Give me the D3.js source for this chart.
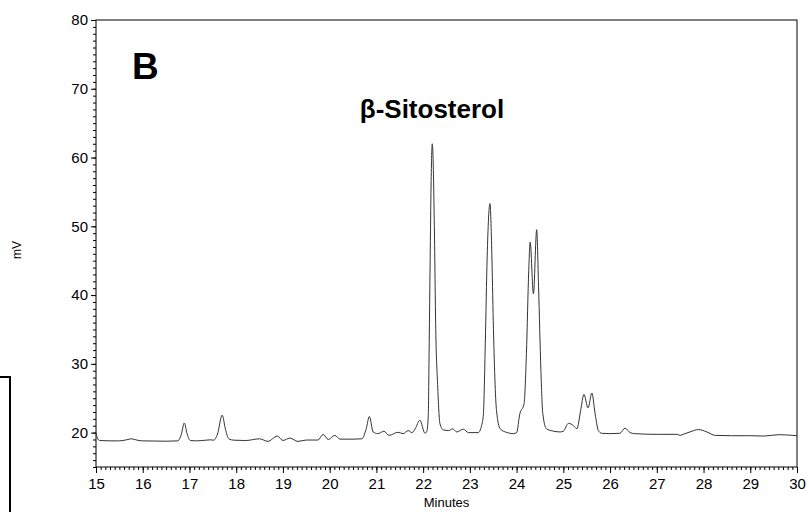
<!DOCTYPE html>
<html>
<head>
<meta charset="utf-8">
<script src="https://cdn.jsdelivr.net/npm/d3@7"></script>
<style>
  body { margin: 0; background: #fff; }
  svg { display: block; font-family: Arial, "Liberation Sans", sans-serif; }
</style>
</head>
<body>
<svg id="chart" width="810" height="512"></svg>
<script>
// retention time (minutes) and detector signal (mV)
var times = [15.00, 15.03, 15.08, 15.3, 15.5, 15.65, 15.76, 15.88, 16.0, 16.5, 16.75, 16.82, 16.89, 16.95, 17.02,
  17.15, 17.35, 17.45, 17.52, 17.6, 17.70, 17.77, 17.84, 17.95, 18.2, 18.5, 18.68, 18.88, 19.0, 19.15, 19.32,
  19.5, 19.75, 19.86, 19.97, 20.11, 20.22, 20.5, 20.69, 20.78, 20.85, 20.93, 21.03, 21.16, 21.27, 21.46, 21.57,
  21.68, 21.76, 21.83, 21.93, 22.04, 22.08, 22.11, 22.13, 22.15, 22.17, 22.195, 22.21, 22.24, 22.27, 22.31,
  22.36, 22.43, 22.55, 22.63, 22.72, 22.86, 22.97, 23.18, 23.25, 23.29, 23.33, 23.37, 23.43, 23.47, 23.50,
  23.57, 23.65, 23.8, 23.93, 24.0, 24.07, 24.16, 24.21, 24.26, 24.29, 24.36, 24.43, 24.47, 24.52, 24.56,
  24.64, 24.8, 24.93, 25.0, 25.11, 25.22, 25.29, 25.37, 25.44, 25.53, 25.61, 25.68, 25.75, 25.82, 26.0,
  26.21, 26.32, 26.43, 26.53, 27.0, 27.43, 27.5, 27.58, 27.71, 27.89, 28.07, 28.25, 28.6, 29.0, 29.3, 29.6, 30.0];
var signal = [20.0, 19.2, 18.85, 18.8, 18.8, 18.95, 19.1, 18.9, 18.8, 18.75, 18.8, 19.6, 21.4, 19.8, 18.85,
  18.8, 18.9, 18.95, 18.9, 19.8, 22.55, 20.5, 19.1, 18.9, 18.85, 19.1, 18.72, 19.5, 18.86, 19.2, 18.72,
  18.92, 18.92, 19.74, 19.0, 19.6, 19.05, 19.05, 19.1, 20.5, 22.35, 20.1, 19.85, 20.2, 19.6, 20.05, 19.85,
  20.3, 20.0, 20.55, 21.8, 19.9, 20.2, 22.5, 33, 45, 56, 62, 60.5, 50, 35, 27,
  21.3, 20.4, 20.3, 20.55, 20.1, 20.5, 20.0, 20.0, 21.0, 22.75, 33, 45.5, 53.3, 46, 36.3,
  23.2, 20.55, 20.0, 19.85, 20.0, 22.75, 24.2, 31.5, 43.6, 47.7, 40.2, 49.5, 41.2, 29.05, 22.8,
  20.55, 20.2, 20.1, 20.2, 21.35, 21.0, 20.55, 23.2, 25.55, 23.6, 25.75, 22.75, 20.3, 19.9, 19.85,
  19.9, 20.65, 20.0, 19.85, 19.75, 19.75, 19.6, 19.8, 20.1, 20.45, 20.1, 19.6, 19.55, 19.55, 19.5, 19.7, 19.55];

var xMajor = d3.range(15, 31, 1);
var yMajor = [20, 30, 40, 50, 60, 70, 80];

var width = 810, height = 512;
var margin = { top: 20, right: 13, bottom: 45, left: 96 };

var x = d3.scaleLinear().domain([15, 30]).range([margin.left, width - margin.right]);
var y = d3.scaleLinear().domain([15, 80]).range([height - margin.bottom, margin.top]);

var svg = d3.select("#chart");

// frame
svg.append("rect")
  .attr("x", margin.left).attr("y", margin.top)
  .attr("width", x(30) - x(15)).attr("height", y(15) - y(80))
  .attr("fill", "none").attr("stroke", "#000").attr("stroke-width", 1);

// minor ticks
svg.append("g")
  .attr("transform", "translate(0," + y(15) + ")")
  .call(d3.axisBottom(x).tickValues(d3.range(150, 301, 1).map(function (d) { return d / 10; }))
    .tickSize(3).tickFormat(""))
  .call(function (g) { g.select(".domain").remove(); });
svg.append("g")
  .attr("transform", "translate(" + margin.left + ",0)")
  .call(d3.axisLeft(y).tickValues(d3.range(15, 81, 1)).tickSize(3).tickFormat(""))
  .call(function (g) { g.select(".domain").remove(); });

// major axes
svg.append("g")
  .attr("transform", "translate(0," + y(15) + ")")
  .call(d3.axisBottom(x).tickValues(xMajor).tickSize(6).tickPadding(5).tickFormat(d3.format("d")))
  .call(function (g) { g.select(".domain").remove(); })
  .call(function (g) { g.selectAll("text").attr("font-size", "15px").attr("fill", "#000").attr("font-family", "Arial, 'Liberation Sans', sans-serif"); });
svg.append("g")
  .attr("transform", "translate(" + margin.left + ",0)")
  .call(d3.axisLeft(y).tickValues(yMajor).tickSize(5).tickPadding(3).tickFormat(d3.format("d")))
  .call(function (g) { g.select(".domain").remove(); })
  .call(function (g) { g.selectAll("text").attr("font-size", "15px").attr("fill", "#000").attr("font-family", "Arial, 'Liberation Sans', sans-serif"); });

// trace
var pts = times.map(function (t, i) { return [t, signal[i]]; });
svg.append("path")
  .datum(pts)
  .attr("fill", "none")
  .attr("stroke", "#333")
  .attr("stroke-width", 1)
  .attr("d", d3.line().x(function (d) { return x(d[0]); }).y(function (d) { return y(d[1]); })
    .curve(d3.curveMonotoneX));

// labels
svg.append("text")
  .attr("x", (x(15) + x(30)) / 2).attr("y", 507)
  .attr("text-anchor", "middle").attr("font-size", "13px")
  .text("Minutes");
svg.append("text")
  .attr("transform", "translate(21,250) rotate(-90)")
  .attr("text-anchor", "middle").attr("font-size", "12px")
  .text("mV");
svg.append("text")
  .attr("x", 132).attr("y", 79)
  .attr("font-size", "37px").attr("font-weight", "bold")
  .text("B");
svg.append("text")
  .attr("x", 432).attr("y", 118)
  .attr("text-anchor", "middle").attr("font-size", "26px").attr("font-weight", "bold")
  .text("β-Sitosterol");

// bracket at the left edge
svg.append("path")
  .attr("d", "M0,377H10V512")
  .attr("fill", "none").attr("stroke", "#000").attr("stroke-width", 2);
</script>
</body>
</html>
